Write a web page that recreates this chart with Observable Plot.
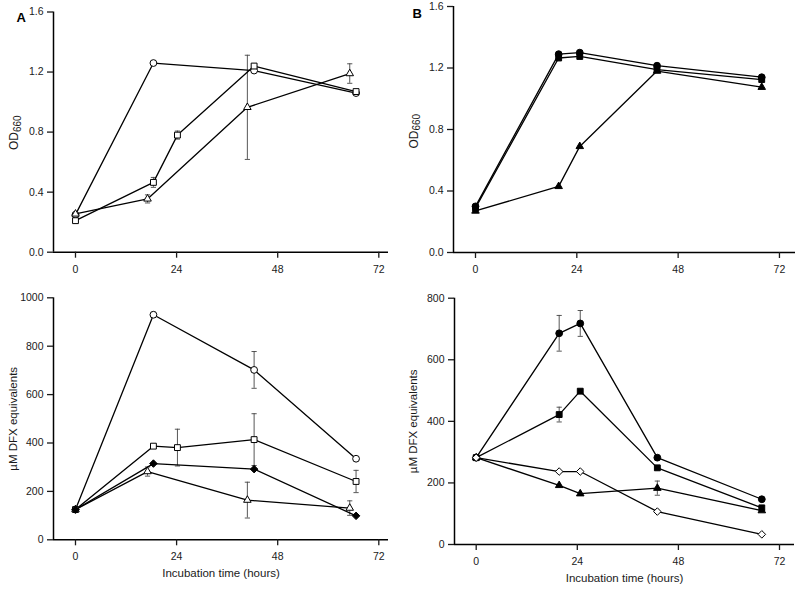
<!DOCTYPE html>
<html>
<head>
<meta charset="utf-8">
<script src="https://cdn.jsdelivr.net/npm/d3@7"></script>
<script src="https://cdn.jsdelivr.net/npm/@observablehq/plot@0.6"></script>
<style>
  html, body { margin: 0; padding: 0; background: white; }
  #wrap { position: relative; width: 800px; height: 593px; background: white; overflow: hidden; }
  #wrap svg { position: absolute; }
</style>
</head>
<body>
<div id="wrap"></div>
<script>
// ---------- Data ----------
const xTicks = [0, 24, 48, 72];
const odTicks = [0, 0.4, 0.8, 1.2, 1.6];
const dfxTicksA = [0, 200, 400, 600, 800, 1000];
const dfxTicksB = [0, 200, 400, 600, 800];

// Panel A (open circle, open square, open triangle, filled diamond)
const timeA_circle = [0, 18.5, 42.4, 66.6];
const timeA_square = [0, 18.5, 24.2, 42.4, 66.6];
const timeA_triangle = [0, 17.1, 40.8, 65.1];
const timeA_diamond = [0, 18.5, 42.4, 66.6];

const odA_circle = [0.25, 1.26, 1.21, 1.06];
const odA_circle_err = [0, 0, 0, 0];
const odA_square = [0.21, 0.465, 0.78, 1.24, 1.07];
const odA_square_err = [0, 0.033, 0.027, 0, 0];
const odA_triangle = [0.255, 0.355, 0.965, 1.19];
const odA_triangle_err = [0, 0.027, 0.347, 0.065];

const dfxA_circle = [125, 930, 702, 335];
const dfxA_circle_err = [0, 10, 76, 0];
const dfxA_square = [125, 387, 381, 414, 241];
const dfxA_square_err = [0, 0, 76, 107, 46];
const dfxA_diamond = [125, 315, 292, 99];
const dfxA_diamond_err = [0, 0, 0, 0];
const dfxA_triangle = [125, 282, 164, 131];
const dfxA_triangle_err = [0, 19, 74, 30];

// Panel B (filled circle, filled square, filled triangle, open diamond)
const timeB = [0, 19.7, 24.7, 43, 67.8];

const odB_circle = [0.30, 1.29, 1.30, 1.215, 1.14];
const odB_square = [0.29, 1.265, 1.275, 1.19, 1.125];
const odB_triangle = [0.27, 0.43, 0.69, 1.18, 1.075];
const odB_none_err = [0, 0, 0, 0, 0];

const dfxB_circle = [282, 686, 718, 282, 147];
const dfxB_circle_err = [0, 58, 42, 0, 0];
const dfxB_square = [282, 422, 498, 249, 119];
const dfxB_square_err = [0, 24, 0, 0, 0];
const dfxB_triangle = [282, 192, 165, 183, 110];
const dfxB_triangle_err = [0, 0, 0, 23, 0];
const dfxB_diamond = [282, 237, 237, 107, 33];

// ---------- Drawing ----------
const FONT = '"Liberation Sans", Arial, Helvetica, sans-serif';
const diamondSym = d3.symbolDiamond2 || {draw(c, s){ const r = Math.sqrt(s) * 0.62625; c.moveTo(0,-r); c.lineTo(r,0); c.lineTo(0,r); c.lineTo(-r,0); c.closePath(); }};
const capSym = {draw(c){ c.moveTo(-2.6, 0); c.lineTo(2.6, 0); }};
const SYM = {circle: d3.symbolCircle, square: d3.symbolSquare, triangle: d3.symbolTriangle, diamond: diamondSym};
const R = {circle: 3.4, square: 3.3, triangle: 2.8, diamond: 3.4};

function series(t, v, e, shape, filled) {
  return {shape, filled, rows: t.map((x, i) => ({t: x, v: v[i], e: e ? e[i] : 0}))};
}

function panel(cfg) {
  const S = cfg.series;
  const all = S.flatMap((s, k) => s.rows.map(d => ({...d, k})));
  const err = all.filter(d => d.e > 0);
  const marks = [
    Plot.ruleX(err, {x: "t", y1: d => d.v - d.e, y2: d => d.v + d.e, stroke: "#444", strokeWidth: 0.9}),
    Plot.dot(err, {x: "t", y: d => d.v + d.e, symbol: capSym, fill: "none", stroke: "#444", strokeWidth: 0.9}),
    Plot.dot(err, {x: "t", y: d => d.v - d.e, symbol: capSym, fill: "none", stroke: "#444", strokeWidth: 0.9}),
    Plot.line(all, {x: "t", y: "v", z: "k", stroke: "black", strokeWidth: 1.3}),
    ...S.map(s => Plot.dot(s.rows, {x: "t", y: "v", symbol: SYM[s.shape], r: R[s.shape],
      fill: s.filled ? "black" : "white", stroke: "black", strokeWidth: 1})),
    Plot.ruleY([cfg.yDomain[0]], {stroke: "black", strokeWidth: 1.5}),
    Plot.ruleX([cfg.xDomain[0]], {stroke: "black", strokeWidth: 1.5}),
    Plot.axisX({ticks: xTicks, tickSize: 6, tickPadding: 7, tickFormat: d => String(d), label: null, strokeWidth: 1.3, fontSize: 10.5}),
    Plot.axisY({ticks: cfg.yTicks, tickSize: 6, tickPadding: 4, tickFormat: cfg.yFmt, label: null, strokeWidth: 1.3, fontSize: 10.5}),
    Plot.text([cfg.letter], {text: d => d, frameAnchor: "top-left", dx: cfg.letterDx, dy: cfg.letterDy, lineAnchor: "bottom", textAnchor: "start", fontSize: 13, fontWeight: "bold", fill: "black"}),
    ...cfg.extra
  ];
  const svg = Plot.plot({
    width: cfg.width, height: cfg.height,
    marginLeft: cfg.ml, marginRight: cfg.mr, marginTop: cfg.mt, marginBottom: cfg.mb,
    x: {domain: cfg.xDomain, label: null},
    y: {domain: cfg.yDomain, label: null},
    style: {fontFamily: FONT, fontSize: "10.5px", background: "white", color: "#1a1a1a", overflow: "visible"},
    marks
  });
  svg.style.left = cfg.left + "px";
  svg.style.top = cfg.top + "px";
  document.getElementById("wrap").appendChild(svg);
}

function odLabel(dx, dyOD, dySub, shift) {
  return [
    Plot.text(["OD"], {text: d => d, frameAnchor: "left", rotate: -90, dx, dy: dyOD, textAnchor: "start", fontSize: 12, fill: "#1a1a1a"}),
    Plot.text(["660"], {text: d => d, frameAnchor: "left", rotate: -90, dx: dx + shift, dy: dySub, textAnchor: "start", fontSize: 10, fill: "#1a1a1a"})
  ];
}
function dfxLabel(dx) {
  return [Plot.text(["µM DFX equivalents"], {text: d => d, frameAnchor: "left", rotate: -90, dx, textAnchor: "middle", fontSize: 11.5, fill: "#1a1a1a"})];
}
function xLabel(dy) {
  return [Plot.text(["Incubation time (hours)"], {text: d => d, frameAnchor: "bottom", dy, fontSize: 11.5, fill: "#1a1a1a"})];
}

const fmt1 = d3.format(".1f");
const fmt0 = d => String(d);

// Panel A – OD660
panel({
  left: 0, top: 0, width: 400, height: 290, ml: 53, mr: 12, mt: 11.5, mb: 38.3,
  xDomain: [-5.22, 74.3], yDomain: [0, 1.6], yTicks: odTicks, yFmt: fmt1,
  letter: "A", letterDx: -37, letterDy: 10.2,
  series: [
    series(timeA_circle, odA_circle, odA_circle_err, "circle", false),
    series(timeA_square, odA_square, odA_square_err, "square", false),
    series(timeA_triangle, odA_triangle, odA_triangle_err, "triangle", false)
  ],
  extra: odLabel(-39, 18, 0, 3)
});

// Panel A – DFX
panel({
  left: 0, top: 280, width: 400, height: 313, ml: 53, mr: 12, mt: 17.3, mb: 53.7,
  xDomain: [-5.22, 74.3], yDomain: [0, 1000], yTicks: dfxTicksA, yFmt: fmt0,
  letter: "", letterDx: 0, letterDy: 0,
  series: [
    series(timeA_circle, dfxA_circle, dfxA_circle_err, "circle", false),
    series(timeA_square, dfxA_square, dfxA_square_err, "square", false),
    series(timeA_triangle, dfxA_triangle, dfxA_triangle_err, "triangle", false),
    series(timeA_diamond, dfxA_diamond, dfxA_diamond_err, "diamond", true)
  ],
  extra: [...dfxLabel(-40), ...xLabel(37)]
});

// Panel B – OD660
panel({
  left: 400, top: 0, width: 400, height: 290, ml: 53, mr: 5, mt: 6, mb: 38,
  xDomain: [-5.21, 75.8], yDomain: [0, 1.6], yTicks: odTicks, yFmt: fmt1,
  letter: "B", letterDx: -41, letterDy: 11.3,
  series: [
    series(timeB, odB_triangle, odB_none_err, "triangle", true),
    series(timeB, odB_square, odB_none_err, "square", true),
    series(timeB, odB_circle, odB_none_err, "circle", true)
  ],
  extra: odLabel(-39, 19, 1, 2)
});

// Panel B – DFX
panel({
  left: 400, top: 280, width: 400, height: 313, ml: 54, mr: 6, mt: 17.7, mb: 49,
  xDomain: [-5.15, 75.56], yDomain: [0, 800], yTicks: dfxTicksB, yFmt: fmt0,
  letter: "", letterDx: 0, letterDy: 0,
  series: [
    series(timeB, dfxB_triangle, dfxB_triangle_err, "triangle", true),
    series(timeB, dfxB_square, dfxB_square_err, "square", true),
    series(timeB, dfxB_circle, dfxB_circle_err, "circle", true),
    series(timeB, dfxB_diamond, null, "diamond", false)
  ],
  extra: [...dfxLabel(-41), ...xLabel(37)]
});
</script>
</body>
</html>
